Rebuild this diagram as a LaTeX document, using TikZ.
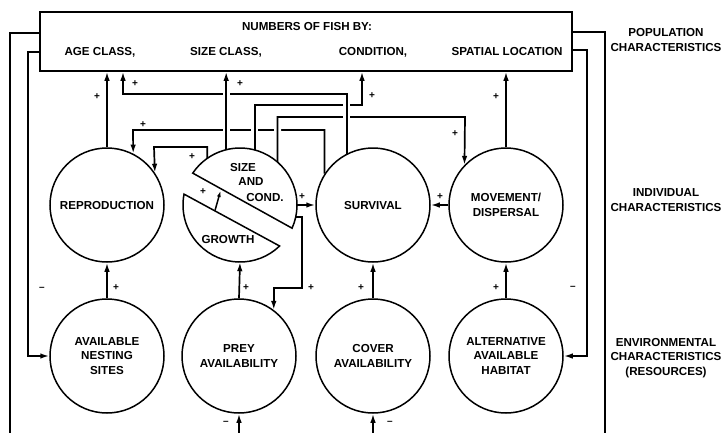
\documentclass[tikz,border=0pt]{standalone}
\usepackage{fontspec}
\setmainfont{Liberation Sans}
\usetikzlibrary{arrows.meta,backgrounds,calc}
\tikzset{
    labtext/.style = {font=\fontsize{11.6}{14.5}\selectfont\bfseries, align=center},
    signtext/.style = {font=\fontsize{10}{10}\selectfont\bfseries, inner sep=0pt},
    proc/.style = {draw, circle, minimum size=114pt, inner sep=0pt, line width=1.5pt, labtext},
    wire/.style = {line width=1.7pt},
    flow/.style = {line width=1.7pt, -{Latex[length=9pt,width=5.5pt]}},
    bridge/.style = {preaction={draw=white, line width=7pt, -}}
}

\begin{document}
\begin{tikzpicture}[x=1pt,y=-1pt]
    \useasboundingbox (0,0) rectangle (725,432);

    % population box
    \node[draw, line width=1.5pt, minimum width=532pt, minimum height=59pt] (fish) at (306,41.5) {};
    \node[labtext] (nums) at (307,27) {NUMBERS OF FISH BY:};
    \node[labtext] (agecl) at (100,52) {AGE CLASS,};
    \node[labtext] (sizecl) at (226,52) {SIZE CLASS,};
    \node[labtext] (condn) at (373,52) {CONDITION,};
    \node[labtext] (spatial) at (507,52) {SPATIAL LOCATION};

    % individual level
    \node[proc] (rep) at (107,205) {REPRODUCTION};
    \node[circle, minimum size=114pt, inner sep=0pt] (size) at (240,205) {};
    \node[proc] (surv) at (373,205) {SURVIVAL};
    \node[proc] (move) at (506,205) {MOVEMENT/\\DISPERSAL};

    % split circle: size and cond. / growth
    \draw[line width=1.5pt] (240,205) ++(24:57) arc[start angle=24, end angle=-146, radius=57] -- cycle;
    \draw[line width=1.5pt] (240,205) ++(46:57) arc[start angle=46, end angle=191, radius=57] -- cycle;
    \node[labtext] (sz1) at (243,167) {SIZE};
    \node[labtext] (sz2) at (251,182) {AND};
    \node[labtext] (sz3) at (265,197) {COND.};
    \node[labtext] (grow) at (228,239) {GROWTH};
    \coordinate (grw) at (215,210.5);
    \coordinate (szc) at (220.5,191);
    \draw[line width=1.5pt, -{Latex[length=6pt,width=4pt]}] (grw) -- (szc);

    % environmental level
    \node[proc] (nest) at (107,356) {AVAILABLE\\NESTING\\SITES};
    \node[proc] (prey) at (239,356) {PREY\\AVAILABILITY};
    \node[proc] (cover) at (373,356) {COVER\\AVAILABILITY};
    \node[proc] (alt) at (506,356) {ALTERNATIVE\\AVAILABLE\\HABITAT};

    % row labels
    \node[labtext] (poplab) at (666,40) {POPULATION\\CHARACTERISTICS};
    \node[labtext] (indlab) at (666,200) {INDIVIDUAL\\CHARACTERISTICS};
    \node[labtext] (envlab) at (666,358) {ENVIRONMENTAL\\CHARACTERISTICS\\(RESOURCES)};

    \coordinate (botl) at (10,434);
    \coordinate (botr) at (605,434);

    \begin{scope}[on background layer]
        % up to the box
        \draw[flow] (rep.north) -- (rep.north |- fish.south);
        \draw[flow] (move.north) -- (move.north |- fish.south);

        % crossing wires
        \draw[flow] (surv.147) |- (133,130) -- (rep.63);
        \draw[flow] (size.125) |- (154,147) -- (rep.34.5);
        \draw[flow,bridge] (size.75) |- (362,105) -- (362,105 |- fish.south);
        \draw[flow,bridge] (size.49.5) |- (465,117) -- (move.136);
        \draw[flow,bridge] (surv.117) |- (123,94) -- (123,94 |- fish.south);
        \draw[flow,bridge] (size.104) -- (size.104 |- fish.south);

        % sideways
        \draw[flow] (size.east) -- (surv.west);
        \draw[flow] (move.west) -- (surv.east);
        \draw[flow] (size.-12) -| (302,288) -| (prey.53);

        % resources up
        \draw[flow] (nest.north) -- (rep.south);
        \draw[flow] (prey.north) -- (size.south);
        \draw[flow] (cover.north) -- (surv.south);
        \draw[flow] (alt.north) -- (move.south);

        % feedback from population
        \draw[wire] (fish.west |- 0,33) -| (botl);
        \draw[flow] (fish.west |- 0,52) -| (nest.west -| 28,0) -- (nest.west);
        \draw[wire] (fish.east |- 0,32) -| (botr);
        \draw[flow] (fish.east |- 0,50) -| (alt.east -| 587,0) -- (alt.east);
        \draw[flow] (prey.south |- botl) -- (prey.south);
        \draw[flow] (cover.south |- botl) -- (cover.south);
    \end{scope}

    % signs
    \foreach \x/\y [count=\i] in {97/97, 135/84, 240/84, 372/96, 496/97, 143/125, 455/134, 192/157,
        203/192, 302/197, 440/197, 116/288, 246/288, 311/288, 361/288, 496/288}
        \node[signtext] (plus\i) at (\x,\y) {+};
    \foreach \x/\y [count=\i] in {42/289, 573/288, 226/423, 390/423}
        \node[signtext] (minus\i) at (\x,\y) {–};
\end{tikzpicture}
\end{document}
